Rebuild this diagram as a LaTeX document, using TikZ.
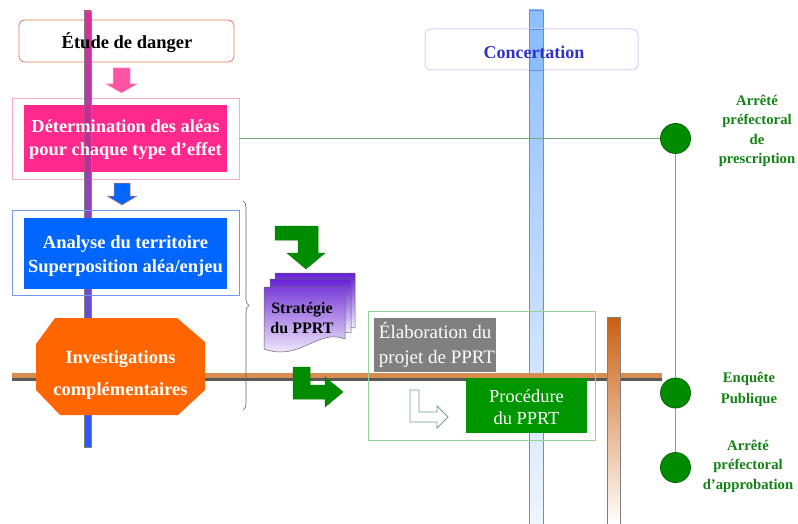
\documentclass[tikz,border=0pt]{standalone}
\usepackage{fontspec}
\setmainfont{Liberation Serif}
\usetikzlibrary{decorations.pathreplacing}
\definecolor{pinkbox}{RGB}{255,40,140}
\definecolor{pinkline}{RGB}{255,170,200}
\definecolor{bluebox}{RGB}{0,102,255}
\definecolor{blueline}{RGB}{120,150,240}
\definecolor{orangeoct}{RGB}{255,102,0}
\definecolor{grn}{RGB}{0,150,0}
\definecolor{grnarrow}{RGB}{0,140,0}
\definecolor{grntext}{RGB}{20,130,20}
\definecolor{grnline}{RGB}{150,210,150}
\definecolor{graybox}{RGB}{128,128,128}
\definecolor{conctext}{RGB}{50,50,200}
\definecolor{concline}{RGB}{210,210,250}
\definecolor{lbar}{RGB}{140,190,255}
\definecolor{lbarline}{RGB}{100,140,230}
\definecolor{brownbar}{RGB}{204,96,16}
\definecolor{hbar}{RGB}{215,140,80}
\definecolor{etudeline}{RGB}{230,120,90}
\definecolor{docpurple}{RGB}{100,30,210}
\begin{document}
\begin{tikzpicture}[x=1pt,y=-1pt,
  txt/.style={font=\fontsize{18.4}{23}\selectfont\bfseries, text=white, align=center, inner sep=0pt},
  grtxt/.style={font=\fontsize{14.7}{19.5}\selectfont\bfseries, text=grntext, align=center, inner sep=0pt},
  jalon/.style={circle, fill=grnarrow, draw=black!60!green, line width=0.8pt, minimum size=30pt, inner sep=0pt},
  grarrow/.style={fill=grnarrow, draw=black!50!green, line width=0.5pt}]
\useasboundingbox (0,0) rectangle (798,524);

% blue concertation bar
\shade[top color=lbar, bottom color=lbar!15, draw=lbarline, line width=0.6pt] (529,10) rectangle (543,524);
\node[draw=concline, line width=1pt, rounded corners=6pt, minimum width=213pt, minimum height=41pt] (conc) at (531.5,49.5) {};
\fill[lbar, draw=lbarline, line width=0.6pt] (529,29) rectangle (543,70);
\node[font=\fontsize{18}{20}\selectfont\bfseries, text=conctext] (conct) at (534,52) {Concertation};

% Etude
\node[draw=etudeline, line width=0.8pt, rounded corners=6pt, minimum width=215pt, minimum height=42pt, fill=white] (etude) at (126.5,41) {};

% pink arrow
\fill[pinkbox!80, draw=pinkline, line width=0.5pt] (113,68) -- (130,68) -- (130,84) -- (137,84) -- (121.5,93) -- (106,84) -- (113,84) -- cycle;

% Determination
\node[draw=pinkline, line width=0.8pt, minimum width=227pt, minimum height=81pt] (detout) at (125.5,138.5) {};
\node[fill=pinkbox, minimum width=203pt, minimum height=67pt] (det) at (125.5,138.5) {};

% left vertical bar
\shade[top color={rgb,255:red,225;green,45;blue,150}, middle color={rgb,255:red,150;green,70;blue,220}, bottom color={rgb,255:red,40;green,90;blue,255}, draw=black!50, line width=0.5pt] (84,11) rectangle (91,447);
\fill[pinkbox!85!black, opacity=0.5] (84,105) rectangle (91,172);
\node[txt] (dett) at (125.5,140) {Détermination des aléas\\pour chaque type d'effet};
\node[font=\fontsize{18.5}{20}\selectfont\bfseries] (etudet) at (127,43) {Étude de danger};

% blue arrow
\fill[bluebox, draw=etudeline, line width=0.5pt] (114,183) -- (130,183) -- (130,196) -- (137,196) -- (122,205) -- (107,196) -- (114,196) -- cycle;

% Analyse
\node[draw=blueline, line width=0.8pt, minimum width=227pt, minimum height=85pt] (anaout) at (125.5,252.5) {};
\node[fill=bluebox, minimum width=203pt, minimum height=71pt] (ana) at (125.5,253.5) {};
\node[txt, font=\fontsize{18.5}{24}\selectfont\bfseries] (anat) at (125.5,256) {Analyse du territoire\\Superposition aléa/enjeu};

% horizontal bar
\fill[hbar] (12,373) rectangle (662,378);
\fill[black!65] (12,378) rectangle (662,381);

% Octagon
\fill[orangeoct] (55,318) -- (177,318) -- (205,342) -- (205,390) -- (178,415) -- (60,415) -- (36,390) -- (36,344) -- cycle;
\node[txt, font=\fontsize{18.5}{32}\selectfont\bfseries] (octt) at (120.5,375) {Investigations\\complémentaires};

% brace
\draw[black!60, line width=0.6pt, decorate, decoration={brace, amplitude=6pt}] (243,201) -- (243,410);

% green arrow top
\path[grarrow] (275,226) -- (318,226) -- (318,253) -- (325,253) -- (306,269) -- (287,253) -- (298,253) -- (298,240) -- (275,240) -- cycle;

% Strategie doc
\shade[top color=docpurple, bottom color=white, draw=black!60, line width=0.5pt] (275,273) -- (355,273) -- (355,328) .. controls (340,326) .. (330,332) -- (275,332) -- cycle;
\shade[top color=docpurple, bottom color=white, draw=black!60, line width=0.5pt] (270,279) -- (351,279) -- (351,333) .. controls (335,331) .. (325,337) -- (270,337) -- cycle;
\shade[top color=docpurple!85, bottom color=white, draw=black!60, line width=0.5pt] (264,287) -- (345,287) -- (345,339) .. controls (318,328) and (300,362) .. (264,349) -- cycle;
\node[font=\fontsize{16}{20}\selectfont\bfseries, align=center, inner sep=0pt] (strat) at (302,318) {Stratégie\\du PPRT};

% green frame
\node[draw=grnline, line width=0.8pt, minimum width=227pt, minimum height=129pt] (frame) at (481.5,375.5) {};

% Elaboration
\node[fill=graybox, minimum width=122pt, minimum height=54pt] (elab) at (435,345) {};
\node[font=\fontsize{19}{25}\selectfont, text=white, align=left, inner sep=0pt] (elabt) at (437,345) {Élaboration du\\projet de PPRT};

% green arrow bottom
\path[grarrow] (293,367) -- (310,367) -- (310,385) -- (325,385) -- (325,377) -- (343,392) -- (325,407) -- (325,399) -- (293,399) -- cycle;

% outline L arrow
\draw[draw={rgb,255:red,110;green,160;blue,160}, line width=0.8pt, fill=white] (410,390) -- (419,390) -- (419,412) -- (437,412) -- (437,406) -- (448,417) -- (437,428) -- (437,422) -- (410,422) -- cycle;

% Procedure
\node[fill=grn, minimum width=121pt, minimum height=55pt] (proc) at (526.5,405.5) {};
\node[font=\fontsize{18.4}{22}\selectfont, text=white, align=center, inner sep=0pt] (proct) at (526.5,407) {Procédure\\du PPRT};

% brown bar
\shade[top color=brownbar, bottom color=white, draw=black!50, line width=0.6pt] (607,317) rectangle (620,524);

% timeline
\node[jalon] (j1) at (675.5,138.5) {};
\node[jalon] (j2) at (675.5,393) {};
\node[jalon] (j3) at (675.5,467.5) {};
\draw[grnline!80!black, line width=0.8pt] (detout.east |- j1) -- (j1.west);
\draw[grnline!80!black, line width=0.8pt] (j1.south) -- (j2.north);
\draw[grnline!80!black, line width=0.8pt] (j2.south) -- (j3.north);

\node[grtxt] (t1) at (757,131) {Arrêté\\préfectoral\\de\\prescription};
\node[grtxt, font=\fontsize{14.7}{21}\selectfont\bfseries] (t2) at (749,389) {Enquête\\Publique};
\node[grtxt] (t3) at (748,466) {Arrêté\\préfectoral\\d'approbation};
\end{tikzpicture}
\end{document}
